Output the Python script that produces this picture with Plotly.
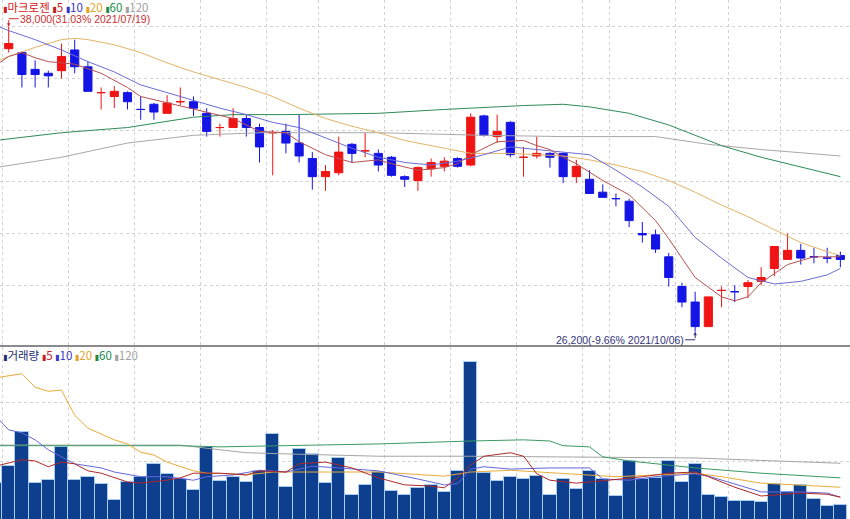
import pandas as pd
import plotly.graph_objects as go

# ---------------- data ----------------
holidays = ["2021-08-16", "2021-09-20", "2021-09-21", "2021-09-22", "2021-10-04", "2021-10-11"]
dates = [d for d in pd.bdate_range("2021-07-16", "2021-10-22") if d.strftime("%Y-%m-%d") not in holidays]

open_ = [36900, 37150, 37000, 36350, 36200, 36300, 37100, 36450, 35450, 35300,
         35450, 34800, 35000, 34650, 35100, 35100, 34650, 34100, 34100, 34450,
         34100, 33900, 33950, 33500, 32900, 32200, 32350, 33450, 33200, 33100,
         32950, 32200, 32050, 32500, 32600, 32900, 32650, 34550, 33750, 34300,
         32950, 33000, 33100, 33100, 32200, 32100, 31600, 31350, 31250, 30000,
         29950, 29100, 27950, 27350, 26400, 27800, 27750, 27950, 28150, 28650,
         29000, 29350, 29100, 29050, 29150]
high = [37500, 38000, 37050, 36700, 36300, 37350, 37500, 36650, 35650, 35700,
        35500, 35300, 35050, 35350, 35650, 35300, 34850, 34250, 34850, 34600,
        34250, 34000, 34250, 34600, 33150, 32650, 33750, 33500, 33900, 33250,
        33000, 32250, 32600, 32900, 32950, 32950, 34650, 34600, 34600, 34350,
        33350, 33750, 33150, 33150, 32850, 32450, 31900, 31550, 31350, 30450,
        30150, 29250, 28100, 27750, 27550, 27950, 28000, 28200, 28700, 29500,
        30000, 29600, 29450, 29450, 29300]
low = [36800, 37000, 35650, 35650, 35650, 36000, 36200, 35500, 34800, 34850,
       34800, 34400, 34400, 34650, 34950, 34550, 33750, 33750, 34100, 33750,
       32750, 32250, 33100, 32750, 31700, 31650, 32250, 32750, 32950, 32400,
       32200, 31800, 31650, 32200, 32400, 32550, 32600, 33750, 33500, 32950,
       32200, 32900, 32550, 31950, 31950, 31550, 31400, 31050, 30250, 29650,
       29250, 27950, 27150, 26200, 26400, 27150, 27350, 27500, 28000, 28350,
       29000, 28800, 28850, 28850, 28700]
close = [37350, 37350, 36150, 36150, 36100, 36850, 36450, 35500, 35450, 35500,
         35100, 34800, 34700, 35050, 35100, 34850, 33950, 34100, 34450, 34100,
         33350, 33900, 33500, 33000, 32200, 32400, 33150, 33100, 33200, 32650,
         32250, 32100, 32550, 32750, 32800, 32600, 34500, 33800, 33950, 33050,
         32950, 33100, 32950, 32200, 32600, 31550, 31400, 31350, 30500, 29950,
         29400, 28300, 27350, 26400, 27550, 27800, 27750, 28100, 28300, 29500,
         29350, 29050, 29100, 29050, 29000]
# r = rising (red) candle, b = falling (blue) candle, as coloured in the chart
direction = ("rrbbb" "rbbrr" "bbbrr" "bbrrb" "brbbb" "rrbrb" "bbrrr"
             "brbrb" "rrbbr" "bbbbb" "bbbbr" "rbrrr" "rbbbb")

volume = [63000, 92000, 150000, 63000, 68000, 125000, 68000, 73000, 62000, 34000,
          65000, 73000, 96000, 79000, 70000, 51000, 125000, 67000, 73000, 65000,
          84000, 147000, 56000, 121000, 113000, 63000, 106000, 43000, 60000, 82000,
          50000, 43000, 55000, 60000, 48000, 84000, 270000, 80000, 67000, 73000,
          70000, 75000, 43000, 70000, 53000, 84000, 70000, 41000, 101000, 70000,
          72000, 101000, 65000, 96000, 43000, 39000, 32000, 32000, 31000, 62000,
          48000, 60000, 36000, 24000, 26000]

# price moving averages: (day index, value)
ma5_at = [0, 1, 2, 3, 4, 6, 8, 10, 11, 13, 15, 18, 20, 22, 23, 25, 27, 29, 30, 32, 34, 35,
          36, 37, 38, 40, 41, 42, 43, 44, 46, 48, 50, 51, 53, 55, 56, 57, 58, 60, 62, 64]
ma5 = [36500, 36850, 37000, 36800, 36650, 36550, 36200, 35650, 35300, 35050, 34800, 34450,
       33950, 33900, 33550, 33050, 32750, 32850, 32700, 32450, 32550, 32700,
       33050, 33300, 33550, 33600, 33400, 33250, 32950, 32700, 32050, 31500, 30500, 29800,
       28300, 27550, 27400, 27550, 28100, 28800, 29100, 29100]
ma10_at = [0, 1, 3, 5, 7, 9, 11, 13, 15, 17, 19, 21, 23, 25, 27, 29, 31, 33, 35, 37, 39, 41,
           43, 45, 47, 49, 51, 53, 55, 57, 59, 61, 63, 64]
ma10 = [38050, 37850, 37500, 37100, 36650, 36250, 35750, 35450, 35150, 34850, 34600, 34300,
        34100, 33700, 33300, 32950, 32750, 32650, 32800, 33050, 33350, 33250,
        33150, 33050, 32450, 31800, 31050, 29850, 29050, 28300, 28050, 28150, 28400, 28650]
ma20_at = [0, 1, 3, 5, 6, 7, 9, 11, 13, 15, 17, 19, 21, 23, 25, 27, 29, 31, 33, 35, 36, 39,
           41, 43, 45, 47, 49, 51, 53, 55, 57, 59, 61, 63, 64]
ma20 = [36650, 36850, 37200, 37500, 37550, 37500, 37300, 37000, 36600, 36250, 35950, 35650,
        35300, 34850, 34450, 34150, 33900, 33600, 33400, 33200, 33100, 33100,
        33050, 33000, 32850, 32650, 32400, 32050, 31600, 31100, 30650, 30150, 29650, 29300, 29150]
ma60_at = [0, 5, 10, 15, 18, 22, 29, 34, 40, 43, 45, 48, 51, 55, 58, 64]
ma60 = [33600, 33900, 34100, 34500, 34600, 34600, 34650, 34800, 34950, 35000, 34900, 34650,
        34200, 33400, 32950, 32200]
ma120_at = [0, 5, 10, 15, 20, 29, 37, 43, 50, 54, 58, 64]
ma120 = [32550, 32950, 33500, 33800, 33900, 33900, 33800, 33750, 33750, 33450, 33250, 33000]

# volume moving averages: (day index, value)
vma5_at = [0, 2, 3, 4, 5, 6, 7, 8, 10, 11, 13, 14, 15, 17, 19, 20, 22, 23, 25, 27, 29, 31, 33,
           34, 35, 36, 37, 39, 40, 41, 42, 44, 46, 49, 51, 53, 54, 56, 58, 59, 61, 63, 64]
vma5 = [92000, 103000, 101000, 91000, 99000, 96000, 84000, 80000, 65000, 63000, 68000, 72000,
        80000, 80000, 77000, 84000, 82000, 96000, 99000, 89000, 72000, 60000, 58000,
        55000, 72000, 94000, 109000, 115000, 109000, 79000, 68000, 63000, 67000, 74000, 80000,
        82000, 74000, 56000, 41000, 43000, 46000, 44000, 39000]
vma10_at = [0, 1, 2, 3, 4, 6, 8, 9, 11, 13, 15, 16, 18, 20, 22, 24, 26, 29, 32, 34, 35, 36,
            37, 39, 42, 45, 46, 48, 50, 53, 54, 57, 58, 61, 63, 64]
vma10 = [178000, 154000, 149000, 137000, 120000, 96000, 89000, 82000, 74000, 74000, 68000,
         74000, 77000, 85000, 82000, 92000, 89000, 84000, 70000, 60000, 62000, 87000,
         91000, 87000, 89000, 89000, 70000, 68000, 74000, 79000, 75000, 55000, 48000, 48000,
         46000, 39000]
vma20_at = [0, 2, 3, 4, 5, 6, 7, 9, 10, 11, 12, 13, 15, 16, 18, 19, 21, 24, 29, 34, 36, 39,
            43, 47, 50, 53, 55, 58, 64]
vma20 = [243000, 250000, 227000, 220000, 222000, 179000, 157000, 137000, 130000, 116000,
         111000, 99000, 84000, 80000, 79000, 77000, 82000, 82000, 82000, 75000, 82000, 85000,
         80000, 74000, 77000, 80000, 74000, 63000, 56000]
vma60_at = [0, 14, 17, 22, 29, 36, 40, 42, 43, 45, 46, 48, 53, 58, 64]
vma60 = [127000, 127000, 125000, 127000, 130000, 135000, 137000, 135000, 127000, 125000,
         108000, 101000, 89000, 80000, 72000]
vma120_at = [0, 14, 17, 19, 22, 29, 36, 44, 53, 59, 64]
vma120 = [128000, 128000, 120000, 115000, 113000, 109000, 109000, 108000, 106000, 101000, 97000]

price_ticks = [28000, 30000, 32000, 34000, 36000, 38000]
volume_ticks = [100000, 200000]

# ---------------- styles ----------------
RED = "#f01414"
BLUE = "#1414e6"
C5, C10, C20, C60, C120 = "#b85050", "#6c6cd4", "#e2b468", "#2e8a5a", "#a8a8a8"
V5, V10, V20, V60, V120 = "#b02828", "#6666d8", "#e8ac38", "#3a9a64", "#a4a4a4"
GRID = "#d2d2d2"

idx = list(range(len(dates)))
date_txt = [d.strftime("%Y/%m/%d") for d in dates]

# week boundaries -> vertical grid lines
week_lines = [k + 0.5 for k in range(len(dates) - 1)
              if dates[k + 1].isocalendar()[1] != dates[k].isocalendar()[1]]

fig = go.Figure()


def pick(vals, flag):
    return [v if d == flag else None for v, d in zip(vals, direction)]


for flag, col in (("r", RED), ("b", BLUE)):
    fig.add_trace(go.Candlestick(
        x=idx, open=pick(open_, flag), high=pick(high, flag), low=pick(low, flag),
        close=pick(close, flag), text=date_txt,
        increasing=dict(line=dict(color=col, width=1), fillcolor=col),
        decreasing=dict(line=dict(color=col, width=1), fillcolor=col),
        whiskerwidth=0, showlegend=False, xaxis="x", yaxis="y"))

for at, vals, col in ((ma120_at, ma120, C120), (ma60_at, ma60, C60), (ma20_at, ma20, C20),
                      (ma10_at, ma10, C10), (ma5_at, ma5, C5)):
    fig.add_trace(go.Scatter(x=at, y=vals, mode="lines", line=dict(color=col, width=1),
                             showlegend=False, hoverinfo="skip", xaxis="x", yaxis="y"))

fig.add_trace(go.Bar(x=idx, y=volume, marker=dict(color="#0e3e8e",
                                                   line=dict(color="#a6cdf0", width=1)),
                     width=1.0, showlegend=False, xaxis="x2", yaxis="y2"))

for at, vals, col in ((vma120_at, vma120, V120), (vma60_at, vma60, V60), (vma20_at, vma20, V20),
                      (vma10_at, vma10, V10), (vma5_at, vma5, V5)):
    fig.add_trace(go.Scatter(x=at, y=vals, mode="lines", line=dict(color=col, width=1),
                             showlegend=False, hoverinfo="skip", xaxis="x2", yaxis="y2"))

W, H = 850, 519
x_range = [0.341, 64.73]
axis_common = dict(range=x_range, tickvals=week_lines, showticklabels=False, ticks="",
                   showgrid=True, gridcolor=GRID, griddash="dot", gridwidth=1,
                   zeroline=False, fixedrange=True)

fig.update_layout(
    width=W, height=H, margin=dict(l=0, r=0, t=0, b=0),
    paper_bgcolor="white", plot_bgcolor="white",
    boxgap=0.12, bargap=0,
    xaxis=dict(**axis_common, anchor="y", rangeslider=dict(visible=False),
               showline=True, linecolor="#8a8a8a", linewidth=2),
    xaxis2=dict(**axis_common, anchor="y2"),
    yaxis=dict(domain=[1 - 345 / H, 1], range=[25689, 39033], tickvals=price_ticks,
               showticklabels=False, showgrid=True, gridcolor=GRID, griddash="dot",
               zeroline=False, ticks=""),
    yaxis2=dict(domain=[0, 1 - 347 / H], range=[1700, 295700], tickvals=volume_ticks,
                showticklabels=False, showgrid=True, gridcolor=GRID, griddash="dot",
                zeroline=False, ticks=""),
    font=dict(family="Noto Sans CJK KR"),
)

# legends (top-left of each panel)
MARK = '<span style="font-family:DejaVu Sans;font-size:8px">▮</span>'
price_items = [("마크로젠", "#d81818"), ("5", "#c02020"), ("10", "#3434c4"),
               ("20", "#e0a428"), ("60", "#228a48"), ("120", "#a0a0a0")]
vol_items = [("거래량", "#1c2c70"), ("5", "#c02020"), ("10", "#3434c4"),
             ("20", "#e0a428"), ("60", "#228a48"), ("120", "#a0a0a0")]


def legend_text(items):
    return " ".join(f'<span style="color:{c}">{MARK}{t}</span>' for t, c in items)


fig.add_annotation(xref="paper", yref="paper", x=0.002, y=1 - 6.5 / H, xanchor="left",
                   yanchor="middle", showarrow=False, text=legend_text(price_items),
                   font=dict(size=11.5, family="Noto Sans CJK KR"), borderpad=0)
fig.add_annotation(xref="paper", yref="paper", x=0.002, y=1 - 355 / H, xanchor="left",
                   yanchor="middle", showarrow=False, text=legend_text(vol_items),
                   font=dict(size=11.5, family="Noto Sans CJK KR"), borderpad=0)

# high / low markers
i_hi = max(idx, key=lambda k: high[k])
i_lo = min(idx, key=lambda k: low[k])
hi_label = f"{high[i_hi]:,}(31.03% {date_txt[i_hi]})"
lo_label = f"{low[i_lo]:,}(-9.66% {date_txt[i_lo]})"

HI_COL = "#c83030"
LO_COL = "#34347a"
for k, yv, sign, col, label in ((i_hi, high[i_hi], 1, HI_COL, hi_label),
                                (i_lo, low[i_lo], -1, LO_COL, lo_label)):
    fig.add_annotation(x=k, y=yv, xref="x", yref="y", text="", showarrow=True,
                       arrowhead=2, arrowsize=0.7, arrowwidth=1, arrowcolor=col,
                       ax=0, ay=-8 * sign, standoff=0)
    fig.add_shape(type="line", xref="x", yref="y", xsizemode="pixel", ysizemode="pixel",
                  xanchor=k, yanchor=yv, x0=0, x1=10 * sign, y0=8 * sign, y1=8 * sign,
                  line=dict(color=col, width=1))
    fig.add_annotation(x=k, y=yv, xref="x", yref="y", text=label, showarrow=False,
                       xanchor="left" if sign > 0 else "right", yanchor="middle",
                       xshift=10 * sign, yshift=8 * sign, borderpad=0,
                       font=dict(size=10.5, color=col, family="Liberation Sans"))

fig.write_html("out.html")
